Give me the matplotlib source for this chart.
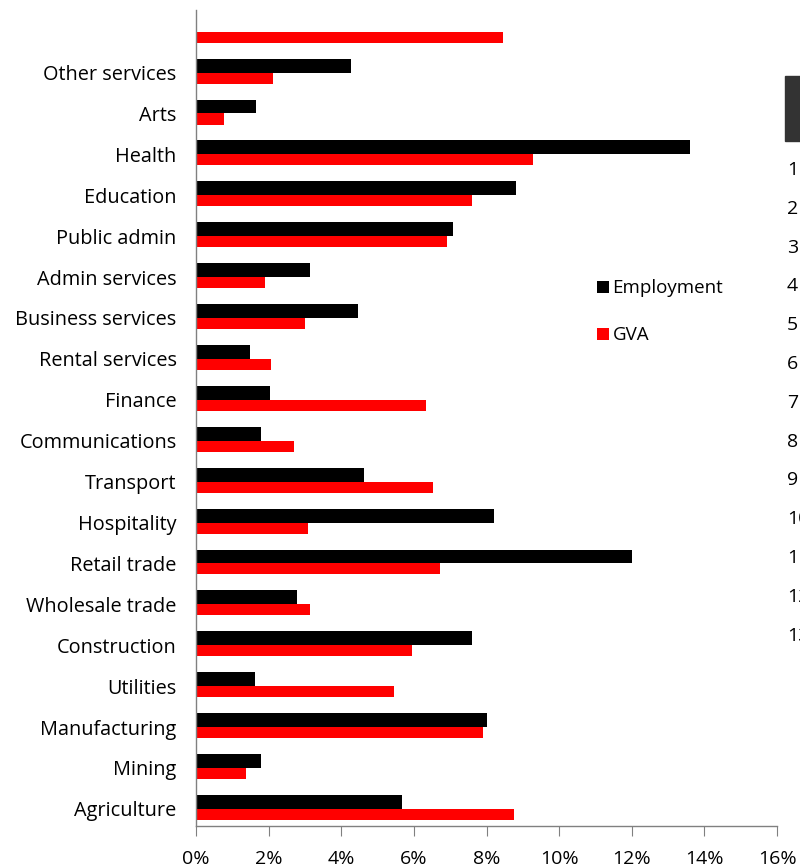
import matplotlib
matplotlib.use("Agg")
import matplotlib.pyplot as plt
import numpy as np

plt.rcParams['font.family'] = ['Open Sans', 'DejaVu Sans']

categories = ["Agriculture", "Mining", "Manufacturing", "Utilities", "Construction",
              "Wholesale trade", "Retail trade", "Hospitality", "Transport",
              "Communications", "Finance", "Rental services", "Business services",
              "Admin services", "Public admin", "Education", "Health", "Arts",
              "Other services", ""]
employment = [5.67, 1.79, 8.02, 1.63, 7.60, 2.78, 12.0, 8.21, 4.64, 1.78, 2.03,
              1.50, 4.45, 3.15, 7.09, 8.82, 13.6, 1.65, 4.28, np.nan]
gva = [8.76, 1.38, 7.90, 5.45, 5.95, 3.14, 6.72, 3.09, 6.53, 2.69, 6.33,
       2.07, 3.01, 1.91, 6.90, 7.60, 9.28, 0.77, 2.11, 8.46]
xticks = [0, 2, 4, 6, 8, 10, 12, 14, 16]
xtick_labels = ["0%", "2%", "4%", "6%", "8%", "10%", "12%", "14%", "16%"]
side_rows = ["1", "2", "3", "4", "5", "6", "7", "8", "9", "10", "11", "12", "13"]

fig = plt.figure(figsize=(8, 8.66), dpi=100)
ax = fig.add_axes([196/800, 1-826/866, (777-196)/800, (826-10)/866])

y = np.arange(len(categories))
ax.barh(y, employment, height=0.34, align='edge', color='#000000', label='Employment')
ax.barh(y, gva, height=-0.27, align='edge', color='#FF0000', label='GVA')

ax.set_xlim(0, 16)
ax.set_ylim(-0.42, 19.53)
ax.set_yticks(y)
ax.set_yticklabels(categories, fontsize=14.3)
ax.tick_params(axis='y', length=0, pad=14)
ax.set_xticks(xticks)
ax.set_xticklabels(xtick_labels, fontsize=14)
ax.tick_params(axis='x', direction='out', length=7, color='#808080', pad=10)
for s in ['top', 'right']:
    ax.spines[s].set_visible(False)
for s in ['left', 'bottom']:
    ax.spines[s].set_color('#808080')
    ax.spines[s].set_linewidth(1)

leg = ax.legend(loc='upper left', bbox_to_anchor=(588/800, 1-270/866),
                bbox_transform=fig.transFigure, frameon=False, fontsize=13.5,
                handlelength=0.6, handleheight=0.6, handletextpad=0.2,
                labelspacing=1.55, borderpad=0)

# Clipped side table at the right edge
fig.patches.append(plt.Rectangle((785/800, 1-141/866), 20/800, 65/866,
                                 transform=fig.transFigure, color='#333333'))
for i, t in enumerate(side_rows):
    fig.text(787/800, 1-(170+38.8*i)/866, t, fontsize=14, va='center', ha='left')

fig.savefig("out.png", dpi=100)
